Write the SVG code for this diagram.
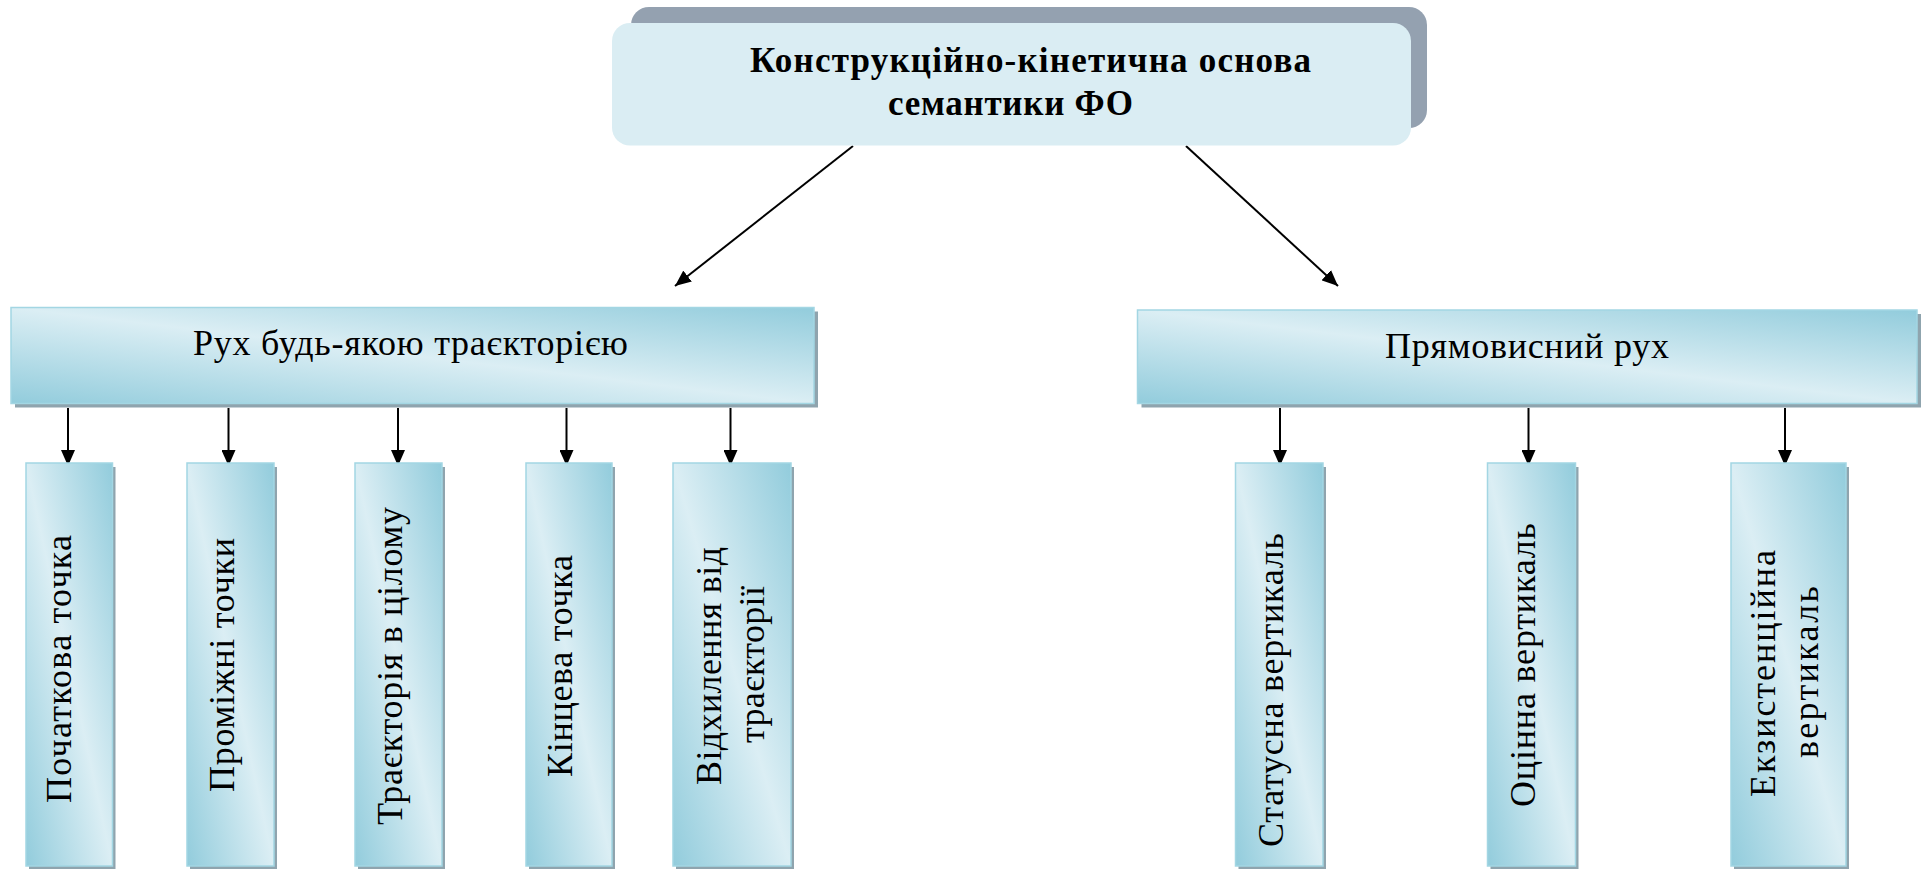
<svg xmlns="http://www.w3.org/2000/svg" width="1921" height="869" viewBox="0 0 1921 869">
<defs>
  <linearGradient id="g" x1="0" y1="1" x2="1" y2="0">
    <stop offset="0" stop-color="#92ccdc"/>
    <stop offset="0.5" stop-color="#dbeef4"/>
    <stop offset="1" stop-color="#92ccdc"/>
  </linearGradient>
  <marker id="ah" viewBox="0 0 16 14" refX="16" refY="7" markerWidth="16" markerHeight="14" markerUnits="userSpaceOnUse" orient="auto">
    <path d="M0,0 L16,7 L0,14 z" fill="#000"/>
  </marker>
</defs>
<style>
  .sh{fill:#8fa4ae}
  .bx{fill:url(#g);stroke:#a3d6e3;stroke-width:1.5}
  .t{font-family:"Liberation Serif","Times New Roman",serif;font-size:36px;fill:#000}
  .tb{font-weight:bold;font-size:35px}
  .c{stroke:#000;stroke-width:2;fill:none;marker-end:url(#ah)}
</style>
<rect width="1921" height="869" fill="#fff"/>

<g id="connectors">
  <line class="c" x1="853" y1="146" x2="675" y2="286"/>
  <line class="c" x1="1186" y1="146" x2="1338" y2="286"/>
  <line class="c" x1="68" y1="408" x2="68" y2="466"/>
  <line class="c" x1="228.5" y1="408" x2="228.5" y2="466"/>
  <line class="c" x1="398" y1="408" x2="398" y2="466"/>
  <line class="c" x1="566.5" y1="408" x2="566.5" y2="466"/>
  <line class="c" x1="730.5" y1="408" x2="730.5" y2="466"/>
  <line class="c" x1="1280" y1="408" x2="1280" y2="466"/>
  <line class="c" x1="1528.5" y1="408" x2="1528.5" y2="466"/>
  <line class="c" x1="1785" y1="408" x2="1785" y2="466"/>
</g>

<g id="node-root">
  <rect x="631" y="7" width="796" height="121" rx="18" fill="#94a1b0"/>
  <rect x="612" y="23" width="799" height="122.5" rx="18" fill="#daedf3"/>
  <text class="t tb" x="750" y="72" textLength="561">Конструкційно-кінетична основа</text>
  <text class="t tb" x="888" y="115" textLength="245">семантики ФО</text>
</g>

<g id="node-any-trajectory">
  <rect class="sh" x="15" y="311.5" width="803" height="96"/>
  <rect class="bx" x="11" y="307.5" width="803" height="96"/>
  <text class="t" x="193" y="355" textLength="435">Рух будь-якою траєкторією</text>
</g>

<g id="node-vertical-motion">
  <rect class="sh" x="1141.5" y="314" width="780" height="93.5"/>
  <rect class="bx" x="1137.5" y="310" width="779.5" height="93.5"/>
  <text class="t" x="1385" y="358" textLength="284">Прямовисний рух</text>
</g>

<g id="node-start-point">
  <rect class="sh" x="29" y="467" width="86.5" height="403"/>
  <rect class="bx" x="26" y="463" width="86.5" height="403"/>
  <text class="t" transform="translate(71,803) rotate(-90)" textLength="268">Початкова точка</text>
</g>

<g id="node-intermediate-points">
  <rect class="sh" x="190" y="467" width="87" height="403"/>
  <rect class="bx" x="187" y="463" width="87" height="403"/>
  <text class="t" transform="translate(233.5,792) rotate(-90)" textLength="254">Проміжні точки</text>
</g>

<g id="node-trajectory-whole">
  <rect class="sh" x="358" y="467" width="87" height="403"/>
  <rect class="bx" x="355" y="463" width="87" height="403"/>
  <text class="t" transform="translate(402,825) rotate(-90)" textLength="318">Траєкторія в цілому</text>
</g>

<g id="node-end-point">
  <rect class="sh" x="529" y="467" width="86" height="403"/>
  <rect class="bx" x="526" y="463" width="86" height="403"/>
  <text class="t" transform="translate(572,777) rotate(-90)" textLength="222">Кінцева точка</text>
</g>

<g id="node-deviation">
  <rect class="sh" x="676" y="467" width="118" height="403"/>
  <rect class="bx" x="673" y="463" width="118" height="403"/>
  <text class="t" transform="translate(721,785) rotate(-90)" textLength="238">Відхилення від</text>
  <text class="t" transform="translate(764,743) rotate(-90)" textLength="157">траєкторії</text>
</g>

<g id="node-status-vertical">
  <rect class="sh" x="1238.5" y="467" width="87.5" height="403"/>
  <rect class="bx" x="1235.5" y="463" width="87.5" height="403"/>
  <text class="t" transform="translate(1283,847) rotate(-90)" textLength="314">Статусна вертикаль</text>
</g>

<g id="node-evaluative-vertical">
  <rect class="sh" x="1490.5" y="467" width="88" height="403"/>
  <rect class="bx" x="1487.5" y="463" width="88" height="403"/>
  <text class="t" transform="translate(1535,807) rotate(-90)" textLength="284">Оцінна вертикаль</text>
</g>

<g id="node-existential-vertical">
  <rect class="sh" x="1734" y="467" width="115" height="403"/>
  <rect class="bx" x="1731" y="463" width="115" height="403"/>
  <text class="t" transform="translate(1775,797) rotate(-90)" textLength="247">Екзистенційна</text>
  <text class="t" transform="translate(1818,758) rotate(-90)" textLength="172">вертикаль</text>
</g>
</svg>
